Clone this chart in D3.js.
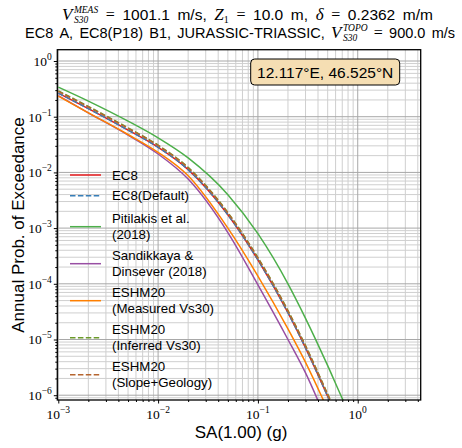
<!DOCTYPE html>
<html>
<head>
<meta charset="utf-8">
<script src="https://cdn.jsdelivr.net/npm/d3@7"></script>
<style>
  body { margin: 0; background: #fff; }
  svg { display: block; }
</style>
</head>
<body>
<div id="chart"></div>
<script>
// hazard curves, SA(1.00) vs annual probability of exceedance
var sa = [0.001, 0.002, 0.005, 0.01, 0.02, 0.05, 0.1, 0.2, 0.3, 0.5, 0.7, 1.0];

var ec8        = [0.266, 0.1396, 0.0575, 0.0282, 0.01122, 0.001738, 0.000269, 3.02e-5, 7.08e-6, 9.55e-7, 2.51e-7, 6.31e-8];
var ec8Default = [0.266, 0.1396, 0.0575, 0.0282, 0.01122, 0.001738, 0.000269, 3.02e-5, 7.08e-6, 9.55e-7, 2.51e-7, 6.31e-8];
var pitilakis  = [0.339, 0.1905, 0.0832, 0.0417, 0.0182, 0.00398, 0.000794, 1.0e-4, 2.40e-5, 3.39e-6, 8.71e-7, 2.24e-7];
var sandikkaya = [0.240, 0.1175, 0.0468, 0.0214, 0.00759, 0.000832, 9.55e-5, 1.0e-5, 2.51e-6, 3.16e-7, 7.94e-8, 2.0e-8];
var eshmMeas   = [0.2344, 0.1175, 0.0479, 0.0229, 0.00871, 0.001, 0.000138, 1.55e-5, 3.89e-6, 5.50e-7, 1.41e-7, 3.55e-8];
var eshmInf    = [0.2917, 0.1531, 0.0631, 0.0309, 0.0123, 0.001905, 0.000295, 3.31e-5, 7.76e-6, 1.047e-6, 2.75e-7, 6.92e-8];
var eshmSlope  = [0.2851, 0.1496, 0.0617, 0.0302, 0.0120, 0.001862, 0.000288, 3.24e-5, 7.59e-6, 1.023e-6, 2.69e-7, 6.76e-8];

var seriesNames = [["EC8"], ["EC8(Default)"], ["Pitilakis et al.", "(2018)"], ["Sandikkaya &", "Dinsever (2018)"],
                   ["ESHM20", "(Measured Vs30)"], ["ESHM20", "(Inferred Vs30)"], ["ESHM20", "(Slope+Geology)"]];
var seriesValues = [ec8, ec8Default, pitilakis, sandikkaya, eshmMeas, eshmInf, eshmSlope];
var seriesColors = ["#e41a1c", "#377eb8", "#4daf4a", "#984ea3", "#ff7f00", "#6b9a2a", "#b5652f"];
var seriesDashed = [false, true, false, false, false, true, true];

var xTickExp = [-3, -2, -1, 0];
var yTickExp = [-6, -5, -4, -3, -2, -1, 0];

var svgWidth = 462, svgHeight = 448;
var margin = {top: 49.7, right: 41.3, bottom: 48, left: 57.3};
var chartWidth = svgWidth - margin.left - margin.right;
var chartHeight = svgHeight - margin.top - margin.bottom;

var svg = d3.select("#chart").append("svg")
    .attr("width", svgWidth)
    .attr("height", svgHeight);

var sans = "'Liberation Sans', Arial, sans-serif";
var serif = "'Liberation Serif', 'Times New Roman', serif";

var xScale = d3.scaleLog()
    .domain([Math.pow(10, -3.01), Math.pow(10, 0.631)])
    .range([0, chartWidth]);
var yScale = d3.scaleLog()
    .domain([Math.pow(10, -6.086), Math.pow(10, 0.203)])
    .range([chartHeight, 0]);

var chartGroup = svg.append("g")
    .attr("transform", `translate(${margin.left}, ${margin.top})`);

// minor and major tick values inside the domain
function logTicks(scale, minor) {
    var d = scale.domain(), out = [];
    for (var e = Math.floor(Math.log10(d[0])); e <= Math.ceil(Math.log10(d[1])); e++) {
        for (var k = 1; k <= 9; k++) {
            var v = k * Math.pow(10, e);
            if (v < d[0] || v > d[1]) continue;
            if ((k === 1) !== minor) out.push(v);
        }
    }
    return out;
}
var xMinor = logTicks(xScale, true), yMinor = logTicks(yScale, true);
var xMajor = xTickExp.map(e => Math.pow(10, e));
var yMajor = yTickExp.map(e => Math.pow(10, e));

// grid
var grid = chartGroup.append("g");
grid.selectAll(".xminor").data(xMinor).enter().append("line")
    .attr("x1", d => xScale(d)).attr("x2", d => xScale(d))
    .attr("y1", 0).attr("y2", chartHeight)
    .attr("stroke", "#cfcfcf").attr("stroke-width", 1);
grid.selectAll(".yminor").data(yMinor).enter().append("line")
    .attr("y1", d => yScale(d)).attr("y2", d => yScale(d))
    .attr("x1", 0).attr("x2", chartWidth)
    .attr("stroke", "#cfcfcf").attr("stroke-width", 1);
grid.selectAll(".xmajor").data(xMajor).enter().append("line")
    .attr("x1", d => xScale(d)).attr("x2", d => xScale(d))
    .attr("y1", 0).attr("y2", chartHeight)
    .attr("stroke", "#a8a8a8").attr("stroke-width", 1);
grid.selectAll(".ymajor").data(yMajor).enter().append("line")
    .attr("y1", d => yScale(d)).attr("y2", d => yScale(d))
    .attr("x1", 0).attr("x2", chartWidth)
    .attr("stroke", "#a8a8a8").attr("stroke-width", 1);

// curves
svg.append("defs").append("clipPath").attr("id", "clip")
    .append("rect").attr("width", chartWidth).attr("height", chartHeight);

var line = d3.line()
    .x((d, i) => xScale(sa[i]))
    .y(d => yScale(d))
    .curve(d3.curveMonotoneX);

var curves = chartGroup.append("g").attr("clip-path", "url(#clip)");
seriesValues.forEach(function (vals, i) {
    curves.append("path")
        .attr("d", line(vals))
        .attr("fill", "none")
        .attr("stroke", seriesColors[i])
        .attr("stroke-width", 1.5)
        .attr("stroke-dasharray", seriesDashed[i] ? "5.5,2.4" : null);
});

// axes
var xAxis = d3.axisBottom(xScale).tickValues(xMajor).tickSize(3.5).tickFormat("");
var yAxis = d3.axisLeft(yScale).tickValues(yMajor).tickSize(3.5).tickFormat("");
chartGroup.append("g").attr("transform", `translate(0, ${chartHeight})`).call(xAxis)
    .call(g => g.select(".domain").remove());
chartGroup.append("g").call(yAxis).call(g => g.select(".domain").remove());
chartGroup.append("g").attr("transform", `translate(0, ${chartHeight})`)
    .call(d3.axisBottom(xScale).tickValues(xMinor).tickSize(2).tickFormat(""))
    .call(g => g.select(".domain").remove());
chartGroup.append("g")
    .call(d3.axisLeft(yScale).tickValues(yMinor).tickSize(2).tickFormat(""))
    .call(g => g.select(".domain").remove());

chartGroup.append("rect")
    .attr("width", chartWidth).attr("height", chartHeight)
    .attr("fill", "none").attr("stroke", "#000").attr("stroke-width", 1.3);

// tick labels 10^n
xTickExp.forEach(function (e) {
    var t = chartGroup.append("text")
        .attr("x", xScale(Math.pow(10, e)))
        .attr("y", chartHeight + 19)
        .attr("text-anchor", "middle")
        .attr("font-family", serif).attr("font-size", 13.5);
    t.append("tspan").text("10");
    t.append("tspan").attr("font-size", 9.5).attr("dy", -6).text(e === 0 ? "0" : "\u2212" + (-e));
});
yTickExp.forEach(function (e) {
    var t = chartGroup.append("text")
        .attr("x", -5.5)
        .attr("y", yScale(Math.pow(10, e)) + 5)
        .attr("text-anchor", "end")
        .attr("font-family", serif).attr("font-size", 13.5);
    t.append("tspan").text("10");
    t.append("tspan").attr("font-size", 9.5).attr("dy", -6).text(e === 0 ? "0" : "\u2212" + (-e));
});

// axis titles
svg.append("text")
    .attr("x", 241).attr("y", 438)
    .attr("text-anchor", "middle")
    .attr("font-family", sans).attr("font-size", 17)
    .text("SA(1.00) (g)");
svg.append("text")
    .attr("transform", "translate(24, 225) rotate(-90)")
    .attr("text-anchor", "middle")
    .attr("font-family", sans).attr("font-size", 17)
    .text("Annual Prob. of Exceedance");

// title: words and math bits laid out one after the other,
// the gaps are stretched so the line spans x0..x1
function richLine(runs, x0, x1, baseline, size) {
    var g = svg.append("g");
    var items = [], x = 0, gaps = 0;
    runs.forEach(function (r) {
        if (r === " ") { gaps++; items.push({gap: true}); return; }
        var nodes = [];
        if (r.sup !== undefined) {
            nodes.push(g.append("text").attr("y", baseline - 7)
                .attr("font-family", serif).attr("font-style", "italic").attr("font-size", 9.5).text(r.sup));
            nodes.push(g.append("text").attr("y", baseline + 3)
                .attr("font-family", serif).attr("font-style", "italic").attr("font-size", 9.5).text(r.sub));
        } else {
            nodes.push(g.append("text").attr("y", baseline + (r.dy || 0))
                .attr("font-family", r.f === "serif" ? serif : sans)
                .attr("font-style", r.i ? "italic" : null)
                .attr("font-size", r.s || size)
                .text(r.t));
        }
        var w = d3.max(nodes, n => n.node().getComputedTextLength()) + (r.pad || 0);
        items.push({nodes: nodes, w: w});
        x += w;
    });
    var gapW = gaps ? (x1 - x0 - x) / gaps : 0;
    var cur = x0;
    items.forEach(function (it) {
        if (it.gap) { cur += gapW; return; }
        it.nodes.forEach(n => n.attr("x", cur));
        cur += it.w;
    });
}

var V = {t: "V", f: "serif", i: true, s: 17, pad: 1.5};
var EQ = {t: "=", f: "serif", s: 16};
richLine([
    V, {sup: "MEAS", sub: "S30"}, " ", EQ, " ", {t: "1001.1"}, " ", {t: "m/s,"}, " ",
    {t: "Z", f: "serif", i: true, s: 17}, {t: "1", f: "serif", s: 10, dy: 3}, " ", EQ, " ",
    {t: "10.0"}, " ", {t: "m,"}, " ",
    {t: "\u03b4", f: "serif", i: true, s: 17}, " ", EQ, " ", {t: "0.2362"}, " ", {t: "m/m"}
], 62, 433, 19.5, 15.5);

richLine([
    {t: "EC8"}, " ", {t: "A,"}, " ", {t: "EC8(P18)"}, " ", {t: "B1,"}, " ", {t: "JURASSIC-TRIASSIC,"}, " ",
    V, {sup: "TOPO", sub: "S30"}, " ", EQ, " ", {t: "900.0"}, " ", {t: "m/s"}
], 25, 455, 37.5, 14.5);

// legend (no frame)
var legend = svg.append("g");
var legendLineY = [175, 195.7, 226.7, 263.7, 300.7, 337.7, 374.7];
seriesNames.forEach(function (lines, i) {
    var y = legendLineY[i];
    legend.append("line")
        .attr("x1", 70).attr("x2", 101).attr("y1", y).attr("y2", y)
        .attr("stroke", seriesColors[i]).attr("stroke-width", 1.5)
        .attr("stroke-dasharray", seriesDashed[i] ? "5.5,2.4" : null);
    lines.forEach(function (txt, j) {
        var base = lines.length === 1 ? y + 4.7 : y - 3.3 + 16 * j;
        legend.append("text")
            .attr("x", 112).attr("y", base)
            .attr("font-family", sans).attr("font-size", 13.3)
            .text(txt);
    });
});

// location box
svg.append("rect")
    .attr("x", 250.7).attr("y", 59).attr("width", 149).attr("height", 26)
    .attr("rx", 4).attr("ry", 4)
    .attr("fill", "#f5deb3").attr("stroke", "#000").attr("stroke-width", 1);
svg.append("text")
    .attr("x", 325.2).attr("y", 77.5)
    .attr("text-anchor", "middle")
    .attr("font-family", sans).attr("font-size", 15.5)
    .text("12.117\u00b0E, 46.525\u00b0N");
</script>
</body>
</html>
